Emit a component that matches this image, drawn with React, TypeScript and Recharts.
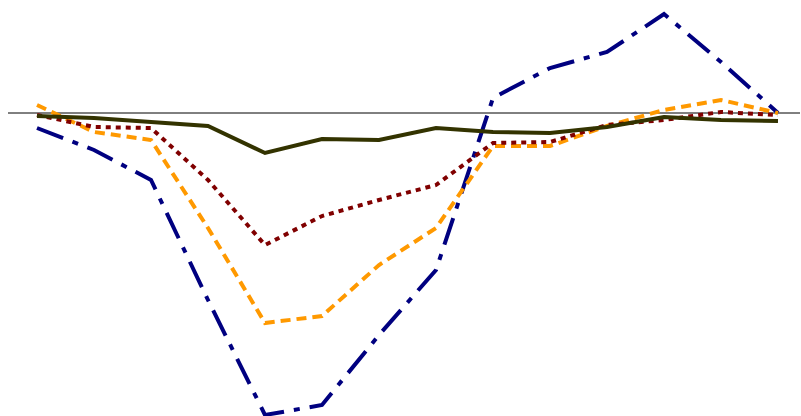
import React from 'react';
import { LineChart, Line, XAxis, YAxis, ReferenceLine } from 'recharts';

const idx = [0,1,2,3,4,5,6,7,8,9,10,11,12,13];
const olive = [-3,-5,-9,-13,-40,-26,-27,-15,-19,-20,-14,-4,-7,-8];
const navy = [-15,-37,-67,-187,-302,-292,-222,-157,15,45,61,99,51,0];
const orange = [8,-19,-27,-115,-210,-203,-152,-115,-33,-33,-13,3,13,0];
const maroon = [-2,-14,-15,-67,-132,-103,-87,-72,-30,-29,-12,-7,1,-2];

const data = idx.map((i) => ({ x: i, olive: olive[i], navy: navy[i], orange: orange[i], maroon: maroon[i] }));

export default function App() {
  return (
    <div style={{ position: 'absolute', left: 0, top: 0, background: '#fff' }}>
      <LineChart width={801} height={416} data={data} margin={{ top: 0, right: 1, bottom: 0, left: 8 }}>
        <XAxis dataKey="x" type="number" domain={[-29 / 57, 13 + 22 / 57]} hide />
        <YAxis type="number" domain={[-303, 113]} hide allowDataOverflow />
        <ReferenceLine y={0} stroke="#000" strokeWidth={1} />
        <Line dataKey="navy" stroke="#000080" strokeWidth={4} strokeDasharray="28 10 6 10" dot={false} isAnimationActive={false} />
        <Line dataKey="orange" stroke="#ff9900" strokeWidth={4} strokeDasharray="10 6" dot={false} isAnimationActive={false} />
        <Line dataKey="maroon" stroke="#800000" strokeWidth={4} strokeDasharray="5 5" dot={false} isAnimationActive={false} />
        <Line dataKey="olive" stroke="#333300" strokeWidth={4} dot={false} isAnimationActive={false} />
      </LineChart>
    </div>
  );
}
